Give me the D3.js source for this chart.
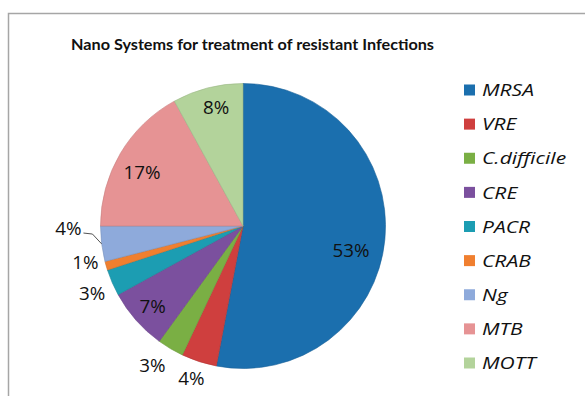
<!DOCTYPE html>
<html><head><meta charset="utf-8">
<script src="https://cdn.jsdelivr.net/npm/d3@7"></script>
<style>
html,body{margin:0;padding:0;background:#fff;}
svg{display:block;}
text{font-family:"Open Sans",Lato,sans-serif;fill:#111;}
</style></head>
<body>
<script>
const categories = ["MRSA","VRE","C.difficile","CRE","PACR","CRAB","Ng","MTB","MOTT"];
const values = [53,4,3,7,3,1,4,17,8];
const colors = ["#1b6fae","#cf3f3e","#7aaf44","#7b509e","#1c9db2","#f07f2f","#8eaadb","#e69394","#b3d39b"];
const title = "Nano Systems for treatment of resistant Infections";
// label radius factors (relative to pie radius) and angle tweaks (degrees)
const labelRadius = [0.777,1.13,1.17,0.85,1.16,1.135,1.225,0.80,0.853];
const labelAngleShift = [7.4,0.7,2.3,-0.3,-0.7,3.15,6.2,-3,1.6];

const W=585,H=396;
const svg=d3.select("body").append("svg").attr("width",W).attr("height",H);
svg.append("rect").attr("width",W).attr("height",H).attr("fill","#fff");
svg.append("path").attr("d",`M8.5,${H}V13.5H${W}`).attr("fill","none").attr("stroke","#a6a6a6").attr("stroke-width",1.5);

function stretch(sel, k){
  sel.each(function(){
    const w=this.getComputedTextLength();
    d3.select(this).attr("textLength",w*k).attr("lengthAdjust","spacingAndGlyphs");
  });
}

const t=svg.append("text").attr("x",252.5).attr("y",50).attr("text-anchor","middle")
  .style("font-family","Lato,sans-serif")
  .attr("font-weight","bold").attr("font-size",15.5).text(title);
stretch(t, 363/t.node().getComputedTextLength());

const cx=243, cy=226, R=142.5;
const g=svg.append("g").attr("transform",`translate(${cx},${cy})`);
const pie=d3.pie().sort(null).value(d=>d)(values);
const arc=d3.arc().innerRadius(0).outerRadius(R);
g.selectAll("path.slice").data(pie).join("path").attr("class","slice")
  .attr("d",arc).attr("fill",(d,i)=>colors[i])
  .attr("stroke",(d,i)=>d3.color(colors[i]).darker(0.4)).attr("stroke-width",0.6);

const total=d3.sum(values);
const labels=[];
pie.forEach((d,i)=>{
  const a=(d.startAngle+d.endAngle)/2 + labelAngleShift[i]*Math.PI/180;
  const r=R*labelRadius[i];
  const x=Math.sin(a)*r, y=-Math.cos(a)*r;
  const tx=g.append("text").attr("x",x).attr("y",y).attr("dy","0.36em").attr("text-anchor","middle")
    .attr("font-size",17.5).text(Math.round(values[i]/total*100)+"%");
  labels.push(tx);
  if(categories[i]==="Ng"){
    const am=(d.startAngle+d.endAngle)/2;
    const px=Math.sin(am)*R, py=-Math.cos(am)*R;
    g.append("path").attr("d",`M${x+15},${y+4}L${x+24},${y+5}L${px},${py}`)
      .attr("fill","none").attr("stroke","#404040").attr("stroke-width",0.9);
  }
});
const k53=37/labels[0].node().getComputedTextLength();
labels.forEach(l=>stretch(l,k53));

const ly=d3.scalePoint().domain(categories).range([90,363]);
const lg=svg.append("g");
const ltexts=[];
categories.forEach((c,i)=>{
  lg.append("rect").attr("x",464).attr("y",ly(c)-5.5).attr("width",11).attr("height",11).attr("fill",colors[i]);
  ltexts.push(lg.append("text").attr("x",482).attr("y",ly(c)).attr("dy","0.36em").attr("font-size",17.2)
    .attr("font-style","italic").text(c));
});
const kl=52/ltexts[0].node().getComputedTextLength();
ltexts.forEach(l=>stretch(l,kl));
</script>
</body></html>
